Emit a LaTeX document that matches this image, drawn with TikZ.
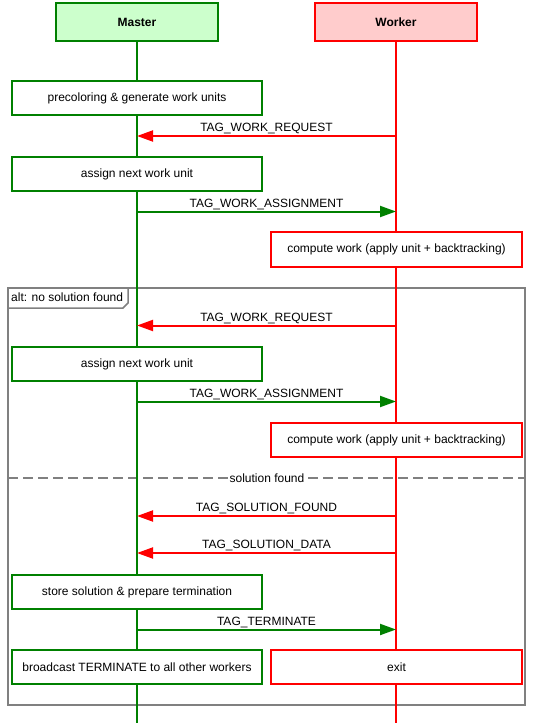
\documentclass[tikz,border=0pt]{standalone}
\usepackage{fontspec}
\setmainfont{Liberation Sans}
\usetikzlibrary{arrows.meta}
\definecolor{mgreen}{HTML}{008000}
\definecolor{mred}{HTML}{FF0000}
\definecolor{mgreenfill}{HTML}{CCFFCC}
\definecolor{mredfill}{HTML}{FFCCCC}
\definecolor{mgray}{HTML}{808080}
\begin{document}
\begin{tikzpicture}[x=1pt,y=-1pt,
  every node/.style={font=\fontsize{12}{14}\selectfont},
  actor/.style={draw, line width=2pt, minimum width=162pt, minimum height=38pt, inner sep=0pt, font=\fontsize{12}{14}\selectfont\bfseries},
  mbox/.style={draw=mgreen, fill=white, line width=2pt, minimum width=250pt, minimum height=34pt, inner sep=0pt},
  wbox/.style={draw=mred, fill=white, line width=2pt, minimum width=251pt, minimum height=34pt, inner sep=0pt},
  life/.style={line width=2pt},
  msgm/.style={draw=mgreen, line width=2pt, -{Triangle[length=16pt,width=11pt]}, fill=mgreen},
  msgw/.style={draw=mred, line width=2pt, -{Triangle[length=16pt,width=11pt]}, fill=mred},
  lbl/.style={midway, anchor=base, yshift=4.5pt, inner sep=0pt, text=black, fill=none},
  frame/.style={draw=mgray, line width=2pt}
]
\useasboundingbox (0,0) rectangle (534,728);
\fill[white] (0,0) rectangle (534,728);

% alt frame
\draw[frame] (8,288) rectangle (525,705);
\draw[frame, line width=1.5pt] (8,308) -- (123,308) -- (128,303) -- (128,288);
\node[anchor=west, inner sep=0pt] (altlbl) at (11,297.5) {alt: no solution found};
\draw[mgray, line width=2pt, dash pattern=on 10pt off 5pt] (8,478) -- (525,478);
\node[fill=white, inner sep=2pt] (sepl) at (267,478) {solution found};

% actors
\node[actor, draw=mgreen, fill=mgreenfill] (master) at (137,22) {Master};
\node[actor, draw=mred, fill=mredfill] (worker) at (396,22) {Worker};
\coordinate (mend) at (137,723);
\coordinate (wend) at (396,723);
\draw[life, mgreen] (master.south) -- (mend);
\draw[life, mred] (worker.south) -- (wend);

% activity boxes
\node[mbox] (pre) at (137,98) {precoloring \& generate work units};
\node[mbox] (as1) at (137,174) {assign next work unit};
\node[wbox, minimum height=35pt] (cw1) at (396.5,249.5) {compute work (apply unit + backtracking)};
\node[mbox] (as2) at (137,364) {assign next work unit};
\node[wbox] (cw2) at (396.5,440) {compute work (apply unit + backtracking)};
\node[mbox] (store) at (137,592) {store solution \& prepare termination};
\node[mbox] (bc) at (137,667) {broadcast TERMINATE to all other workers};
\node[wbox] (ex) at (396.5,667) {exit};

% message anchors
\foreach \n/\y in {1/136,2/211.5,3/325.5,4/401.5,5/516,6/553,7/629.5}{
  \coordinate (m\n) at (137,\y);
  \coordinate (w\n) at (396,\y);
}

\draw[msgw] (w1) -- (m1) node[lbl] {TAG\_WORK\_REQUEST};
\draw[msgm] (m2) -- (w2) node[lbl] {TAG\_WORK\_ASSIGNMENT};
\draw[msgw] (w3) -- (m3) node[lbl] {TAG\_WORK\_REQUEST};
\draw[msgm] (m4) -- (w4) node[lbl] {TAG\_WORK\_ASSIGNMENT};
\draw[msgw] (w5) -- (m5) node[lbl] {TAG\_SOLUTION\_FOUND};
\draw[msgw] (w6) -- (m6) node[lbl] {TAG\_SOLUTION\_DATA};
\draw[msgm] (m7) -- (w7) node[lbl] {TAG\_TERMINATE};
\end{tikzpicture}
\end{document}
